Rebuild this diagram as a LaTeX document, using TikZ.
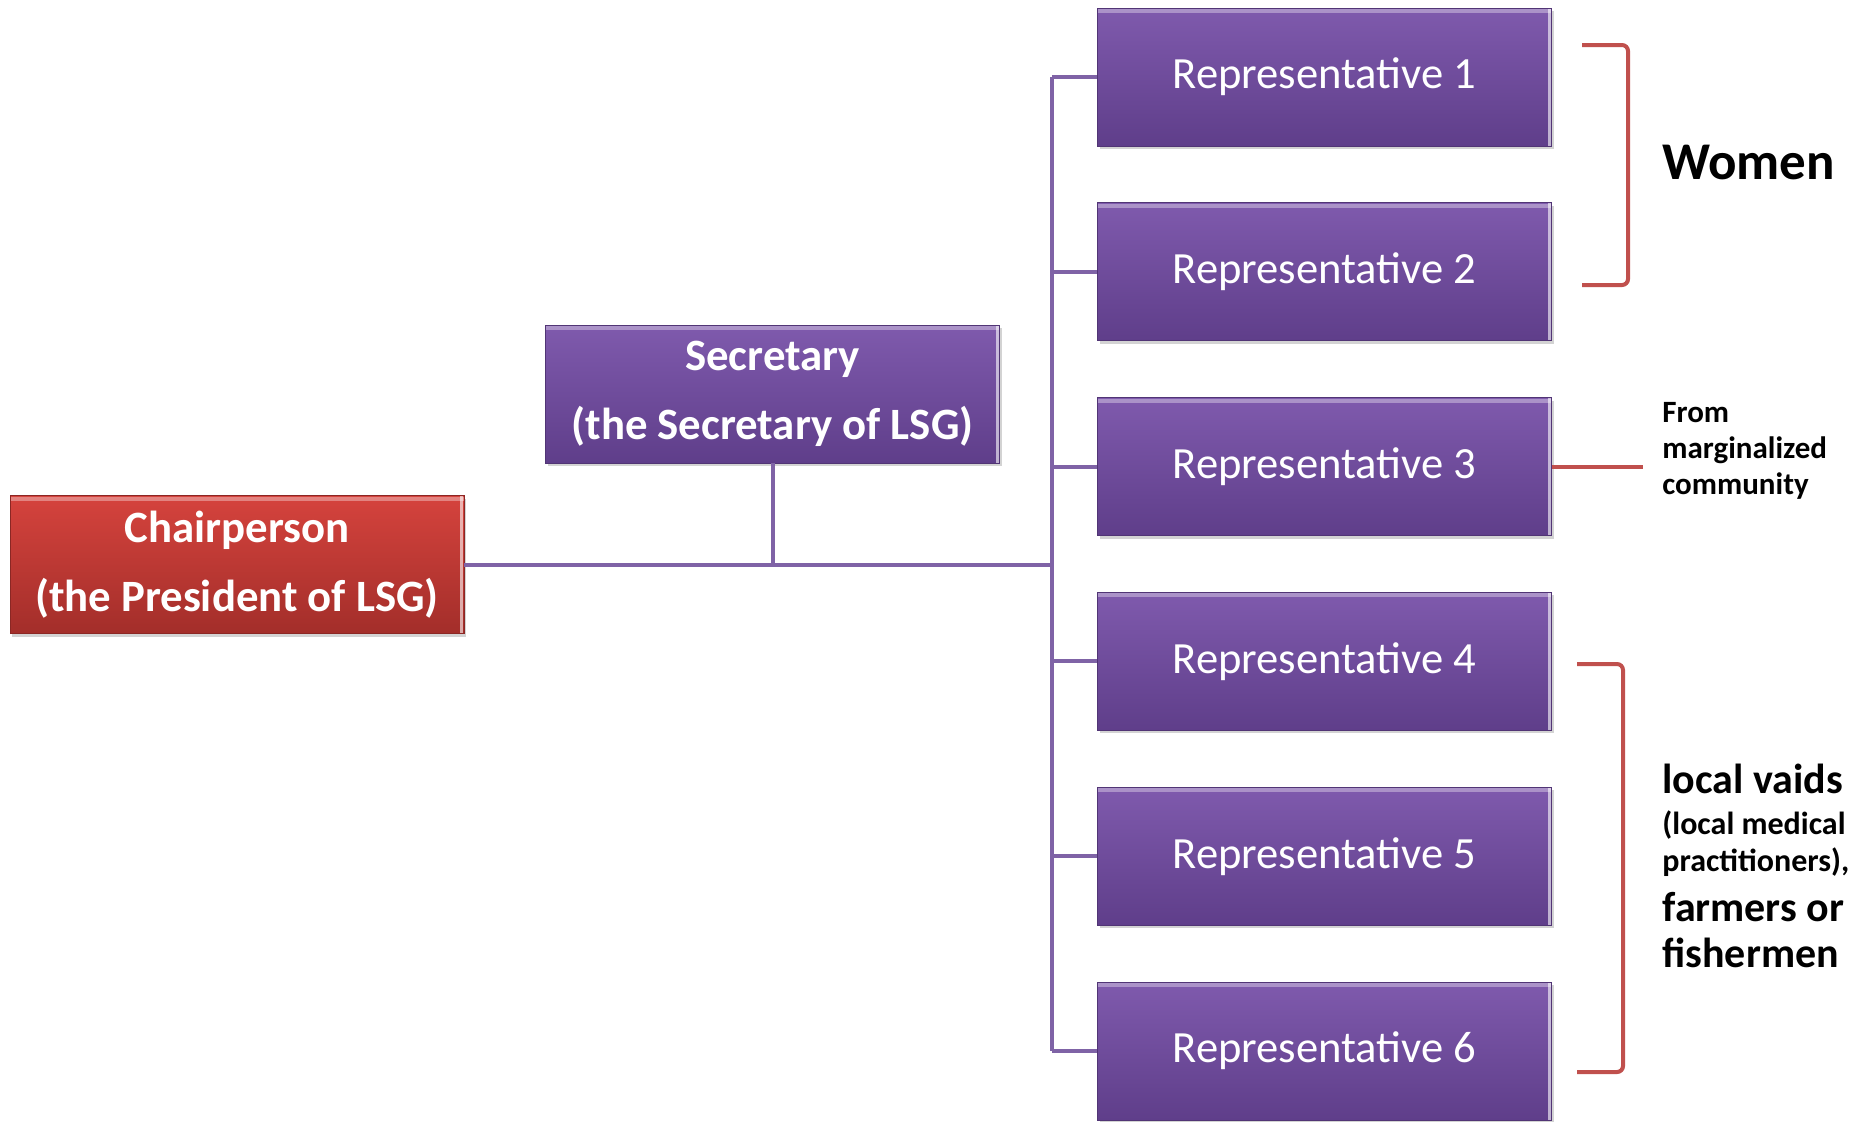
\documentclass[tikz,border=0pt]{standalone}
\usepackage{fontspec}
\setmainfont{Carlito}
\usetikzlibrary{shadows}

\definecolor{boxtop}{HTML}{7F5AAD}
\definecolor{boxbot}{HTML}{5F3E8A}
\definecolor{chairtop}{HTML}{D5433D}
\definecolor{chairbot}{HTML}{A32E2A}
\definecolor{linkpurple}{HTML}{7F63A6}
\definecolor{bracered}{HTML}{C0504D}

\begin{document}
\begin{tikzpicture}[x=0.5pt,y=-0.5pt,
    box/.style={rectangle,minimum width=227pt,minimum height=69pt,inner sep=0pt,
      top color=boxtop,bottom color=boxbot,draw=boxbot!85!black,line width=0.4pt,
      drop shadow={shadow xshift=1pt,shadow yshift=-1.5pt,opacity=0.35},
      path picture={
        \draw[white,opacity=0.35,line width=2pt]
          ([yshift=-1.5pt]path picture bounding box.north west) --
          ([yshift=-1.5pt]path picture bounding box.north east);
        \draw[white,opacity=0.6,line width=1.5pt]
          ([xshift=-1.2pt]path picture bounding box.north east) --
          ([xshift=-1.2pt]path picture bounding box.south east);},
      text=white,align=center,font=\fontsize{22.3}{34.5}\selectfont},
    headbox/.style={box,font=\fontsize{22.4}{34.5}\selectfont\bfseries},
    chairbox/.style={headbox,top color=chairtop,bottom color=chairbot,draw=chairbot!85!black},
    link/.style={draw=linkpurple,line width=2pt},
    brace/.style={draw=bracered,line width=2pt,rounded corners=3pt},
    note/.style={anchor=base west,align=left,inner sep=0pt}]
  \useasboundingbox (0,0) rectangle (1854,1121);

  % boxes
  \node[chairbox] (chair) at (237,564.5) {Chairperson\\(the President of LSG)};
  \node[headbox] (sec) at (772.5,394) {Secretary\\(the Secretary of LSG)};
  \foreach[evaluate=\i as \y using {77+(\i-1)*194.8}] \i in {1,...,6} {
    \node[box] (rep\i) at (1324.5,\y) {Representative \i};
  }

  % links
  \coordinate (trunk) at (1052,564.5);
  \draw[link] (chair.east) -- (trunk);
  \draw[link] (sec.south) -- (sec.south |- trunk);
  \draw[link] (trunk |- rep1.west) -- (trunk |- rep6.west);
  \foreach \i in {1,...,6} {
    \draw[link] (trunk |- rep\i.west) -- (rep\i.west);
  }

  % groups
  \draw[brace] (1582,45) -- (1628,45) -- (1628,285) -- (1582,285);
  \draw[brace] (rep3.east) -- ++(91,0);
  \draw[brace] (1577,664) -- (1623,664) -- (1623,1072) -- (1577,1072);

  % base anchor of a multi-line note is its last line
  \node[note,font=\bfseries\fontsize{26.5}{31}\selectfont] (women) at (1662,179) {Women};
  \node[note,font=\bfseries\fontsize{15.5}{18}\selectfont] (marg) at (1662,494)
    {From\\marginalized\\community};
  \node[note,font=\bfseries\fontsize{21}{23}\selectfont] (vaids) at (1662,793) {local vaids};
  \node[note,font=\bfseries\fontsize{16}{18.5}\selectfont] (medic) at (1662,871)
    {(local medical\\practitioners),};
  \node[note,font=\bfseries\fontsize{21}{23}\selectfont] (farm) at (1662,967)
    {farmers or\\fishermen};
\end{tikzpicture}
\end{document}
